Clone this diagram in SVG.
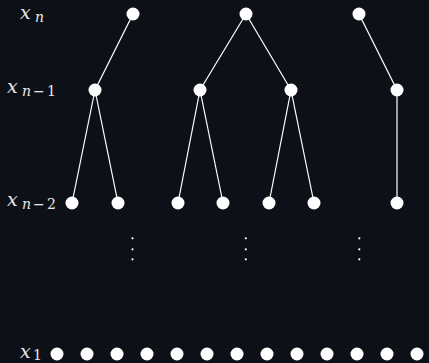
<svg xmlns="http://www.w3.org/2000/svg" width="429" height="363" viewBox="0 0 429 363">
<style>
.n{fill:#ffffff}
.e{stroke:#ffffff;stroke-width:1.2;fill:none}
.d{fill:#ffffff}
text{font-family:'DejaVu Serif','Liberation Serif',serif;font-style:italic;font-size:19px;fill:#e8e8e8}
.s{font-size:14px}
.u{font-style:normal}
</style>
<rect width="429" height="363" fill="#0d1117"/>
<g id="labels">
<text x="20" y="19">x<tspan class="s" x="35" y="22">n</tspan></text>
<text x="7" y="93">x<tspan class="s" x="22" y="96">n</tspan><tspan class="s u" x="33" y="96">−</tspan><tspan class="s u" x="47" y="96">1</tspan></text>
<text x="7" y="206">x<tspan class="s" x="22" y="209">n</tspan><tspan class="s u" x="33" y="209">−</tspan><tspan class="s u" x="47" y="209">2</tspan></text>
<text x="20" y="358">x<tspan class="s u" x="33" y="360">1</tspan></text>
</g>
<g id="connectors">
<line class="e" x1="133" y1="14" x2="95" y2="90"/>
<line class="e" x1="95" y1="90" x2="72" y2="203"/>
<line class="e" x1="95" y1="90" x2="118" y2="203"/>
<line class="e" x1="246" y1="14" x2="200" y2="90"/>
<line class="e" x1="246" y1="14" x2="291" y2="90"/>
<line class="e" x1="200" y1="90" x2="178" y2="203"/>
<line class="e" x1="200" y1="90" x2="223" y2="203"/>
<line class="e" x1="291" y1="90" x2="269" y2="203"/>
<line class="e" x1="291" y1="90" x2="314" y2="203"/>
<line class="e" x1="359" y1="14" x2="397" y2="90"/>
<line class="e" x1="397" y1="90" x2="397" y2="203"/>
</g>
<g id="n1"><circle class="n" cx="133" cy="14" r="6.5"/></g>
<g id="n2"><circle class="n" cx="246" cy="14" r="6.5"/></g>
<g id="n3"><circle class="n" cx="359" cy="14" r="6.5"/></g>
<g id="m1"><circle class="n" cx="95" cy="90" r="6.5"/></g>
<g id="m2"><circle class="n" cx="200" cy="90" r="6.5"/></g>
<g id="m3"><circle class="n" cx="291" cy="90" r="6.5"/></g>
<g id="m4"><circle class="n" cx="397" cy="90" r="6.5"/></g>
<g id="k1"><circle class="n" cx="72" cy="203" r="6.5"/></g>
<g id="k2"><circle class="n" cx="118" cy="203" r="6.5"/></g>
<g id="k3"><circle class="n" cx="178" cy="203" r="6.5"/></g>
<g id="k4"><circle class="n" cx="223" cy="203" r="6.5"/></g>
<g id="k5"><circle class="n" cx="269" cy="203" r="6.5"/></g>
<g id="k6"><circle class="n" cx="314" cy="203" r="6.5"/></g>
<g id="k7"><circle class="n" cx="397" cy="203" r="6.5"/></g>
<g id="vdots">
<circle class="d" cx="132.5" cy="238.3" r="1.1"/><circle class="d" cx="132.5" cy="249.3" r="1.1"/><circle class="d" cx="132.5" cy="259.3" r="1.1"/>
<circle class="d" cx="245.8" cy="238.3" r="1.1"/><circle class="d" cx="245.8" cy="249.3" r="1.1"/><circle class="d" cx="245.8" cy="259.3" r="1.1"/>
<circle class="d" cx="359.3" cy="238.3" r="1.1"/><circle class="d" cx="359.3" cy="249.3" r="1.1"/><circle class="d" cx="359.3" cy="259.3" r="1.1"/>
</g>
<g id="b1"><circle class="n" cx="57" cy="354" r="6.5"/></g>
<g id="b2"><circle class="n" cx="87" cy="354" r="6.5"/></g>
<g id="b3"><circle class="n" cx="117" cy="354" r="6.5"/></g>
<g id="b4"><circle class="n" cx="147" cy="354" r="6.5"/></g>
<g id="b5"><circle class="n" cx="177" cy="354" r="6.5"/></g>
<g id="b6"><circle class="n" cx="207" cy="354" r="6.5"/></g>
<g id="b7"><circle class="n" cx="237" cy="354" r="6.5"/></g>
<g id="b8"><circle class="n" cx="267" cy="354" r="6.5"/></g>
<g id="b9"><circle class="n" cx="297" cy="354" r="6.5"/></g>
<g id="b10"><circle class="n" cx="327" cy="354" r="6.5"/></g>
<g id="b11"><circle class="n" cx="357" cy="354" r="6.5"/></g>
<g id="b12"><circle class="n" cx="387" cy="354" r="6.5"/></g>
<g id="b13"><circle class="n" cx="417" cy="354" r="6.5"/></g>
</svg>
